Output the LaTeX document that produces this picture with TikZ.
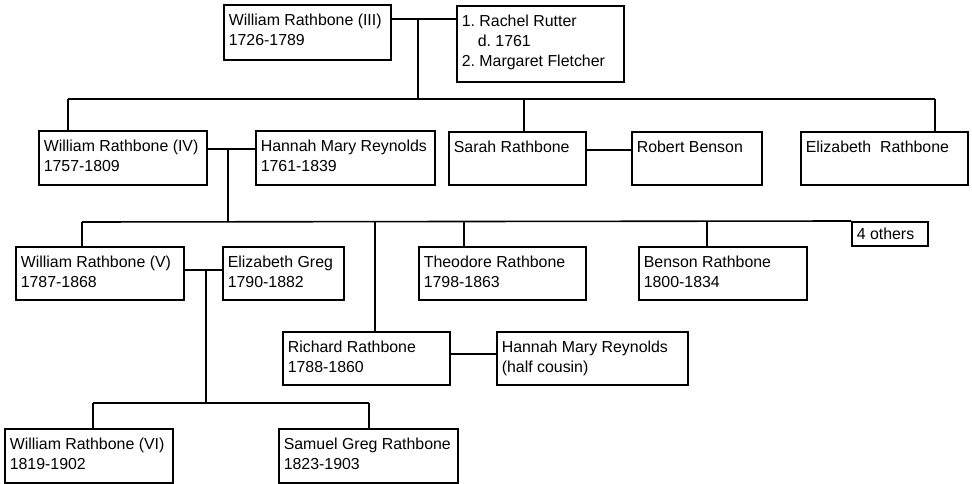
\documentclass[tikz,border=0pt]{standalone}
\usepackage{fontspec}
\setmainfont{Liberation Sans}
\frenchspacing
\newcommand{\famtxt}[4]{\parbox[t][#2pt][t]{\dimexpr#1pt-10pt\relax}{\frenchspacing\rule{0pt}{#3pt}#4}}
\tikzset{
  person/.style={draw=black, line width=1.6pt, anchor=north west, inner xsep=5pt, inner ysep=0pt,
    font=\fontsize{15.9pt}{20.3pt}\selectfont},
  link/.style={draw=black, line width=1.6pt}
}
\begin{document}
\begin{tikzpicture}[x=1pt,y=-1pt]
\useasboundingbox (0,0) rectangle (972,484);
% generation 1
\node[person] (wr3) at (223,4) {\famtxt{167}{55}{20.5}{William Rathbone (III)\\1726-1789}};
\node[person] (wife) at (456,5) {\famtxt{167}{76}{20.5}{1. Rachel Rutter\\\hspace*{16pt}d. 1761\\2. Margaret Fletcher}};
% generation 2
\node[person] (wr4) at (38,130) {\famtxt{168}{54}{20.5}{William Rathbone (IV)\\1757-1809}};
\node[person] (hmr) at (255,130) {\famtxt{179}{54}{20.5}{Hannah Mary Reynolds\\1761-1839}};
\node[person] (sarah) at (448,131) {\famtxt{137}{53}{20.5}{Sarah Rathbone}};
\node[person] (robert) at (631,131) {\famtxt{130}{53}{20.5}{Robert Benson}};
\node[person] (eliz) at (800,131) {\famtxt{167}{53}{20.5}{Elizabeth\ \ Rathbone}};
% generation 3
\node[person] (others) at (851,221) {\famtxt{76}{24}{18}{4 others}};
\node[person] (wr5) at (15,246) {\famtxt{168}{53}{20.5}{William Rathbone (V)\\1787-1868}};
\node[person] (eg) at (222,246) {\famtxt{121}{53}{20.5}{Elizabeth Greg\\1790-1882}};
\node[person] (theo) at (418,246) {\famtxt{167}{53}{20.5}{Theodore Rathbone\\1798-1863}};
\node[person] (benson) at (638,246) {\famtxt{168}{53}{20.5}{Benson Rathbone\\1800-1834}};
\node[person] (richard) at (282,331) {\famtxt{167}{53}{20.5}{Richard Rathbone\\1788-1860}};
\node[person] (hmr2) at (496,331) {\famtxt{191}{53}{20.5}{Hannah Mary Reynolds\\(half cousin)}};
% generation 4
\node[person] (wr6) at (4,428) {\famtxt{168}{54}{20.5}{William Rathbone (VI)\\1819-1902}};
\node[person] (sgr) at (278,428) {\famtxt{179}{54}{20.5}{Samuel Greg Rathbone\\1823-1903}};
% junction coordinates
\coordinate (m1) at (418,19);
\coordinate (b1j) at (418,99);
\coordinate (b1l) at (68,99);
\coordinate (b1s) at (524,99);
\coordinate (b1r) at (935,99);
\coordinate (m2) at (228,149);
\coordinate (m3) at (600,150);
\coordinate (b2j) at (228,222);
\coordinate (b2l) at (82,222);
\coordinate (b2r) at (375,222);
\coordinate (b2t) at (464,222);
\coordinate (b2b) at (707,222);
\coordinate (m4) at (206,270);
\coordinate (m5) at (470,354);
\coordinate (b3j) at (206,403);
\coordinate (b3l) at (93,403);
\coordinate (b3r) at (369,403);
% connectors
\draw[link] (wr3.east |- m1) -- (wife.west |- m1);
\draw[link] (m1) -- (b1j);
\draw[link] (b1l) -- (b1r);
\draw[link] (b1l) -- (b1l |- wr4.north);
\draw[link] (b1s) -- (b1s |- sarah.north);
\draw[link] (b1r) -- (b1r |- eliz.north);
\draw[link] (wr4.east |- m2) -- (hmr.west |- m2);
\draw[link] (sarah.east |- m3) -- (robert.west |- m3);
\draw[link] (m2) -- (b2j);
\draw[link] (b2l) -- (others.north west);
\draw[link] (b2l) -- (b2l |- wr5.north);
\draw[link] (b2r) -- (b2r |- richard.north);
\draw[link] (b2t) -- (b2t |- theo.north);
\draw[link] (b2b) -- (b2b |- benson.north);
\draw[link] (wr5.east |- m4) -- (eg.west |- m4);
\draw[link] (richard.east |- m5) -- (hmr2.west |- m5);
\draw[link] (m4) -- (b3j);
\draw[link] (b3l) -- (b3r);
\draw[link] (b3l) -- (b3l |- wr6.north);
\draw[link] (b3r) -- (b3r |- sgr.north);
\end{tikzpicture}
\end{document}
